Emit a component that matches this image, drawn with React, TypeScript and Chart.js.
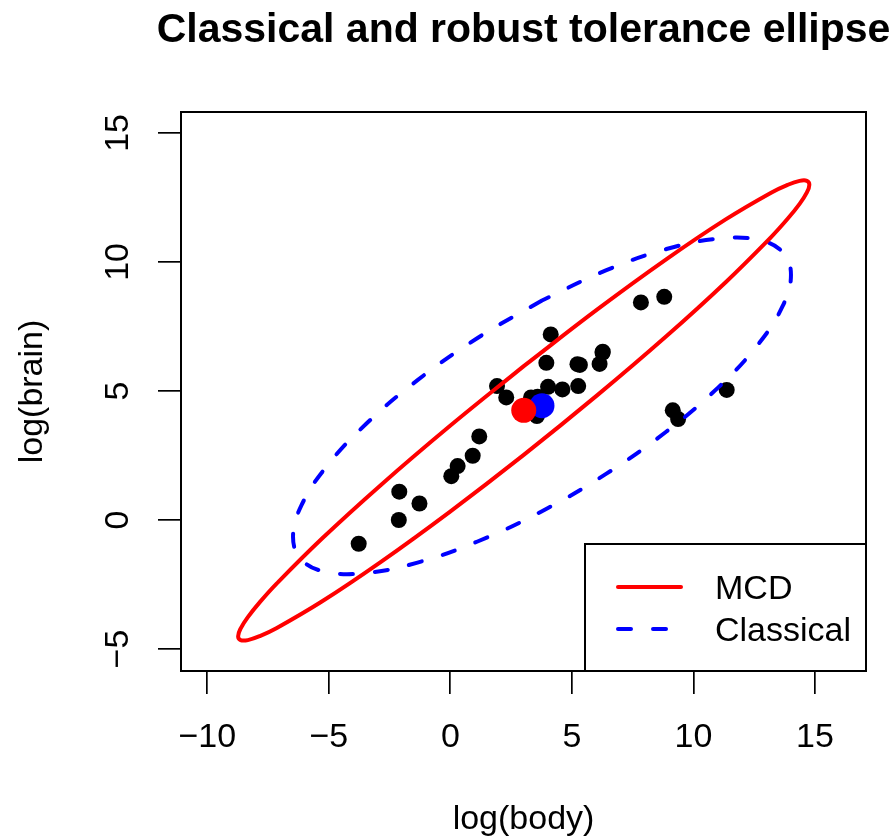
import React, { useEffect, useRef } from "react";
import { Chart, registerables } from "chart.js";

Chart.register(...registerables);

// ---- Data (natural logs of the Animals data) ----
const LOG_BODY = [0.30, 6.14, 3.59, 3.32, 0.04, 9.37, 7.84, 5.23, 6.26, 2.30, 1.19, 6.27, 5.33, 4.13, 8.80, 9.15, 1.92, 3.56, -2.12, -3.77, 0.92, 4.02, 4.61, 3.95, -1.27, 11.37, -2.10, 5.26];
const LOG_BRAIN = [2.09, 6.05, 4.78, 4.75, 1.70, 3.91, 8.43, 6.04, 6.48, 4.75, 3.24, 6.52, 6.01, 7.19, 8.65, 4.25, 5.19, 4.03, 0.00, -0.92, 2.49, 5.16, 5.06, 6.09, 0.64, 5.04, 1.10, 5.19];

const MCD_CENTER = [3.02, 4.25];
const CLASSICAL_CENTER = [3.77, 4.43];

// Robust (MCD) 97.5% tolerance ellipse outline
const MCD_ELLIPSE_X = [3.02, -0.021, -2.855, -5.288, -7.156, -7.836, -8.329, -8.629, -8.73, -8.629, -8.329, -7.836, -7.156, -5.288, -2.855, -0.021, 3.02, 6.061, 8.895, 11.328, 13.196, 13.876, 14.369, 14.669, 14.77, 14.669, 14.369, 13.876, 13.196, 11.328, 8.895, 6.061, 3.02];
const MCD_ELLIPSE_Y = [5.965, 3.641, 1.360, -0.726, -2.473, -3.181, -3.762, -4.206, -4.505, -4.655, -4.652, -4.497, -4.193, -3.158, -1.620, 0.319, 2.525, 4.849, 7.130, 9.216, 10.963, 11.671, 12.252, 12.696, 12.995, 13.145, 13.142, 12.987, 12.683, 11.648, 10.110, 8.171, 5.965];

// Classical 97.5% tolerance ellipse outline
const CLASSICAL_ELLIPSE_X = [3.771, 1.120, -1.350, -3.471, -5.099, -6.122, -6.471, -6.122, -5.099, -3.471, -1.350, 1.120, 3.771, 6.422, 8.892, 11.013, 12.641, 13.664, 14.013, 13.664, 12.641, 11.013, 8.892, 6.422, 3.771];
const CLASSICAL_ELLIPSE_Y = [8.507, 7.054, 5.420, 3.720, 2.068, 0.575, -0.654, -1.537, -2.014, -2.052, -1.650, -0.832, 0.343, 1.796, 3.430, 5.130, 6.782, 8.275, 9.504, 10.387, 10.864, 10.902, 10.500, 9.682, 8.507];

const X_TICKS = [-10, -5, 0, 5, 10, 15];
const Y_TICKS = [-5, 0, 5, 10, 15];

const TITLE = "Classical and robust tolerance ellipse";
const X_LABEL = "log(body)";
const Y_LABEL = "log(brain)";
const LEGEND_LABELS = ["MCD", "Classical"];

const FONT = "'Liberation Sans', Arial, Helvetica, sans-serif";

const fmt = (v: number) => (v < 0 ? "\u2212" + Math.abs(v) : String(v));

const rDecor = {
  id: "rDecor",
  afterDraw(chart: any) {
    const { ctx, chartArea: a, scales } = chart;
    const xs = scales.x;
    const ys = scales.y;
    ctx.save();
    // plot box
    ctx.strokeStyle = "#000";
    ctx.lineWidth = 2;
    ctx.setLineDash([]);
    ctx.strokeRect(a.left, a.top, a.right - a.left, a.bottom - a.top);

    ctx.fillStyle = "#000";
    ctx.textAlign = "center";
    ctx.textBaseline = "alphabetic";
    // title
    ctx.font = `bold 41px ${FONT}`;
    ctx.fillText(TITLE, (a.left + a.right) / 2, 42);

    // tick labels
    ctx.font = `34px ${FONT}`;
    X_TICKS.forEach((v) => ctx.fillText(fmt(v), xs.getPixelForValue(v), 747));
    Y_TICKS.forEach((v) => {
      ctx.save();
      ctx.translate(128, ys.getPixelForValue(v));
      ctx.rotate(-Math.PI / 2);
      ctx.fillText(fmt(v), 0, 0);
      ctx.restore();
    });

    // axis titles
    ctx.fillText(X_LABEL, (a.left + a.right) / 2, 829);
    ctx.save();
    ctx.translate(42, (a.top + a.bottom) / 2);
    ctx.rotate(-Math.PI / 2);
    ctx.fillText(Y_LABEL, 0, 0);
    ctx.restore();

    // legend
    const lx = a.right - 281;
    const ly = a.bottom - 127;
    ctx.fillStyle = "#fff";
    ctx.fillRect(lx, ly, a.right - lx, a.bottom - ly);
    ctx.strokeStyle = "#000";
    ctx.lineWidth = 2;
    ctx.strokeRect(lx, ly, a.right - lx, a.bottom - ly);
    const items = [chart.data.datasets[2], chart.data.datasets[3]];
    items.forEach((ds: any, i: number) => {
      const yy = ly + 43 + i * 42;
      ctx.save();
      ctx.strokeStyle = ds.borderColor;
      ctx.lineWidth = ds.borderWidth;
      ctx.lineCap = "round";
      ctx.setLineDash(ds.borderDash || []);
      ctx.beginPath();
      ctx.moveTo(lx + 33, yy);
      ctx.lineTo(lx + 96, yy);
      ctx.stroke();
      ctx.restore();
      ctx.fillStyle = "#000";
      ctx.textAlign = "left";
      ctx.fillText(LEGEND_LABELS[i], lx + 130, yy + 12);
    });
    ctx.restore();
  },
};

export default function App() {
  const ref = useRef<HTMLCanvasElement | null>(null);

  useEffect(() => {
    if (!ref.current) return;
    const chart = new Chart(ref.current, {
      type: "scatter",
      data: {
        datasets: [
          {
            label: "MCD center",
            data: [{ x: MCD_CENTER[0], y: MCD_CENTER[1] }],
            pointRadius: 12.5,
            pointBackgroundColor: "#ff0000",
            pointBorderWidth: 0,
          },
          {
            label: "Classical center",
            data: [{ x: CLASSICAL_CENTER[0], y: CLASSICAL_CENTER[1] }],
            pointRadius: 12.5,
            pointBackgroundColor: "#0000ff",
            pointBorderWidth: 0,
          },
          {
            label: "MCD",
            data: MCD_ELLIPSE_X.map((x, i) => ({ x, y: MCD_ELLIPSE_Y[i] })),
            showLine: true,
            pointRadius: 0,
            borderColor: "#ff0000",
            borderWidth: 4,
            tension: 0.4,
            fill: false,
            borderCapStyle: "round",
          },
          {
            label: "Classical",
            data: CLASSICAL_ELLIPSE_X.map((x, i) => ({ x, y: CLASSICAL_ELLIPSE_Y[i] })),
            showLine: true,
            pointRadius: 0,
            borderColor: "#0000ff",
            borderWidth: 4,
            borderDash: [13, 22],
            borderCapStyle: "round",
            tension: 0.4,
            fill: false,
          },
          {
            label: "Animals",
            data: LOG_BODY.map((x, i) => ({ x, y: LOG_BRAIN[i] })),
            pointRadius: 8,
            pointBackgroundColor: "#000",
            pointBorderWidth: 0,
          },
        ],
      } as any,
      options: {
        responsive: false,
        animation: false,
        devicePixelRatio: 1,
        events: [],
        layout: { padding: { left: 0, top: 112, right: 27, bottom: 0 } },
        plugins: {
          legend: { display: false },
          tooltip: { enabled: false },
          title: { display: false },
        },
        scales: {
          x: {
            type: "linear",
            min: -11.08,
            max: 17.1,
            afterBuildTicks: (s: any) => {
              s.ticks = X_TICKS.map((v) => ({ value: v }));
            },
            afterFit: (s: any) => {
              s.height = 168;
            },
            ticks: { display: false },
            grid: { drawOnChartArea: false, drawTicks: true, tickLength: 23, color: "#000", lineWidth: 1.7 },
            border: { display: false },
          },
          y: {
            type: "linear",
            min: -5.85,
            max: 15.81,
            afterBuildTicks: (s: any) => {
              s.ticks = Y_TICKS.map((v) => ({ value: v }));
            },
            afterFit: (s: any) => {
              s.width = 181;
            },
            ticks: { display: false },
            grid: { drawOnChartArea: false, drawTicks: true, tickLength: 23, color: "#000", lineWidth: 1.7 },
            border: { display: false },
          },
        },
      } as any,
      plugins: [rDecor],
    });
    return () => chart.destroy();
  }, []);

  return (
    <div style={{ position: "absolute", left: 0, top: 0, width: 893, height: 839, background: "#fff" }}>
      <canvas ref={ref} width={893} height={839} style={{ display: "block" }} />
    </div>
  );
}
